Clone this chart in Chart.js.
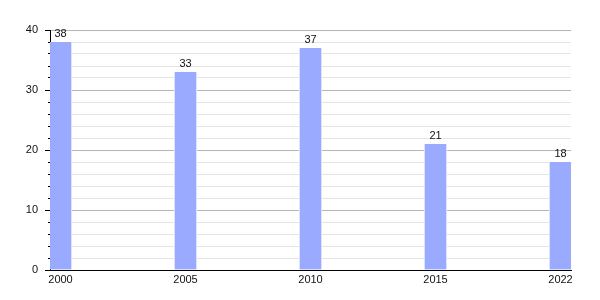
<!DOCTYPE html>
<html>
<head>
<meta charset="utf-8">
<script src="https://cdn.jsdelivr.net/npm/chart.js@4/dist/chart.umd.min.js"></script>
<style>
    html, body { margin: 0; padding: 0; background: #fff; }
</style>
</head>
<body>
<canvas id="chart" width="600" height="300"></canvas>
<script>
// Data
const years = ['2000', '2005', '2010', '2015', '2022'];
const counts = [38, 33, 37, 21, 18];
const yTicks = [0, 10, 20, 30, 40];

// Value labels above each bar
const barLabels = {
    id: 'barLabels',
    afterDatasetsDraw(chart) {
        const ctx = chart.ctx;
        const meta = chart.getDatasetMeta(0);
        ctx.save();
        ctx.font = '11px "Liberation Sans", Arial, sans-serif';
        ctx.fillStyle = '#111';
        ctx.textAlign = 'center';
        ctx.textBaseline = 'bottom';
        meta.data.forEach((bar, i) => {
            ctx.fillText(String(counts[i]), bar.x, bar.y - 3);
        });
        ctx.restore();
    }
};

const halfBar = 0.084; // half a bar width, in category units

const ctx = document.getElementById('chart').getContext('2d');
const chart = new Chart(ctx, {
    type: 'bar',
    data: {
        datasets: [{
            data: counts.map((v, i) => ({ x: i, y: v })),
            backgroundColor: '#99aaff',
            borderColor: '#ffffff',
            borderWidth: { left: 1, right: 1, top: 0, bottom: 0 },
            borderSkipped: false,
            barThickness: 23
        }]
    },
    options: {
        responsive: false,
        animation: false,
        devicePixelRatio: 1,
        layout: { padding: { left: 0, right: 29, top: 30, bottom: 0 } },
        plugins: {
            legend: { display: false },
            tooltip: { enabled: false }
        },
        scales: {
            x: {
                type: 'linear',
                offset: false,
                min: -halfBar,
                max: years.length - 1 + halfBar,
                afterBuildTicks: axis => {
                    axis.ticks = years.map((_, i) => ({ value: i }));
                },
                afterFit: axis => { axis.height = 30; },
                grid: { display: false, drawTicks: false, offset: false },
                border: { display: true, color: '#000', width: 1 },
                ticks: {
                    autoSkip: false,
                    maxRotation: 0,
                    padding: 3,
                    color: '#111',
                    font: { family: '"Liberation Sans", Arial, sans-serif', size: 11 },
                    callback: v => years[Math.round(v)] ?? ''
                }
            },
            y: {
                min: 0,
                max: 40,
                afterFit: axis => { axis.width = 50; },
                grid: {
                    color: c => (c.tick.value % 10 === 0 ? '#b4b4b4' : '#e4e4e4'),
                    tickColor: '#000',
                    tickLength: 5,
                    tickBorderDash: c => (c.tick.value % 10 === 0 ? [] : [0, 3, 2, 20])
                },
                border: { display: true, color: '#000', width: 1 },
                ticks: {
                    stepSize: 2,
                    autoSkip: false,
                    padding: 7,
                    color: '#111',
                    font: { family: '"Liberation Sans", Arial, sans-serif', size: 11 },
                    callback: v => (yTicks.includes(v) ? String(v) : '')
                }
            }
        }
    },
    plugins: [barLabels]
});
</script>
</body>
</html>
